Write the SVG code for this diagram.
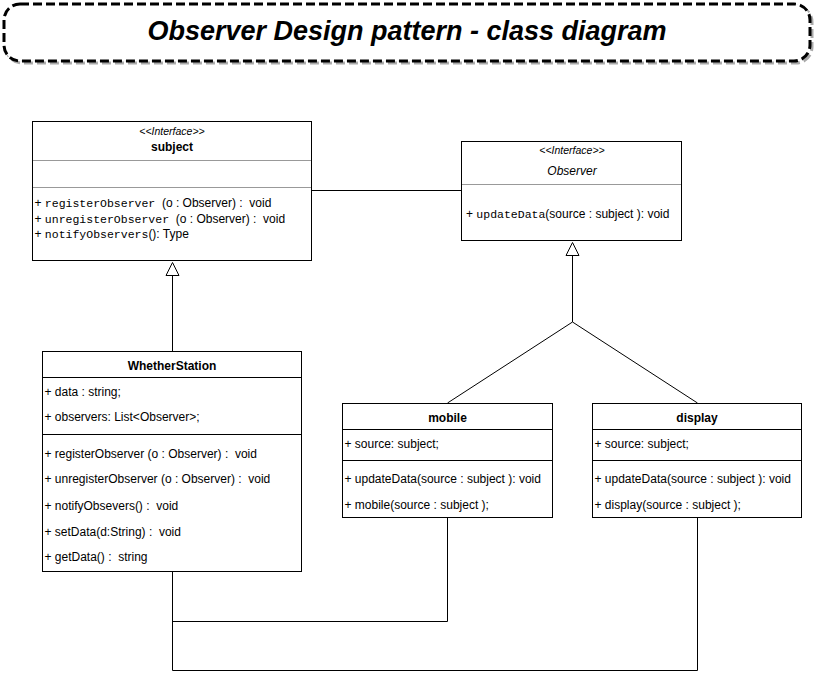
<svg xmlns="http://www.w3.org/2000/svg" width="815" height="673" viewBox="0 0 815 673">
<style>
  .box{fill:#fff;stroke:#000;stroke-width:1}
  .div{stroke:#000;stroke-width:1;fill:none}
  .gdiv{stroke:#999;stroke-width:1;fill:none}
  .t{font-family:"Liberation Sans",Arial,sans-serif;font-size:12px;fill:#000}
  .m{font-family:"Liberation Mono","DejaVu Sans Mono",monospace;font-size:11.5px}
  .b{font-weight:bold}
  .st{font-family:"Liberation Sans",Arial,sans-serif;font-size:10.5px;font-style:italic;fill:#000}
  .c{text-anchor:middle}
  .ln{stroke:#000;stroke-width:1;fill:none}
  .tri{fill:#fff;stroke:#000;stroke-width:1}
  .title{font-family:"Liberation Sans",Arial,sans-serif;font-size:27px;font-weight:bold;font-style:italic;fill:#000;text-anchor:middle}
</style>
<rect width="815" height="673" fill="#fff"/>
<g id="title">
  <rect x="6" y="6" width="806" height="57" rx="16" ry="16" fill="none" stroke="#aaa" stroke-width="3" stroke-dasharray="9 4"/>
  <rect x="4" y="4" width="806" height="57" rx="16" ry="16" fill="#fff" stroke="#000" stroke-width="3" stroke-dasharray="9 4"/>
  <text class="title" x="407" y="40">Observer Design pattern - class diagram</text>
</g>
<g id="connectors">
  <line class="ln" x1="312" y1="190.5" x2="462" y2="190.5"/>
  <line class="ln" x1="172.5" y1="351" x2="172.5" y2="275"/>
  <polygon class="tri" points="172.5,262.5 166,275.5 179,275.5"/>
  <polyline class="ln" points="447.5,403 572.5,322 697.5,403"/>
  <line class="ln" x1="572.5" y1="322" x2="572.5" y2="255.5"/>
  <polygon class="tri" points="572.5,242.5 566,255.5 579,255.5"/>
  <polyline class="ln" points="447.5,518 447.5,621.5 172.5,621.5"/>
  <line class="ln" x1="172.5" y1="571" x2="172.5" y2="670.5"/>
  <polyline class="ln" points="697.5,518 697.5,670.5 172.5,670.5"/>
</g>
<g id="subject">
  <rect class="box" x="32.5" y="121.5" width="279" height="139"/>
  <line class="gdiv" x1="33" y1="160.5" x2="311" y2="160.5"/>
  <line class="gdiv" x1="33" y1="187.5" x2="311" y2="187.5"/>
  <text class="st c" x="172" y="134.5">&lt;&lt;Interface&gt;&gt;</text>
  <text class="t b c" x="172" y="151">subject</text>
  <text class="t" x="34.5" y="206.5" xml:space="preserve">+ <tspan class="m">registerObserver</tspan>  (o : Observer) :  void</text>
  <text class="t" x="34.5" y="222.5" xml:space="preserve">+ <tspan class="m">unregisterObserver</tspan>  (o : Observer) :  void</text>
  <text class="t" x="34.5" y="238" xml:space="preserve">+ <tspan class="m">notifyObservers</tspan>(): Type</text>
</g>
<g id="observer">
  <rect class="box" x="461.5" y="141.5" width="220" height="99"/>
  <line class="gdiv" x1="462" y1="184.5" x2="681" y2="184.5"/>
  <text class="st c" x="572" y="154">&lt;&lt;Interface&gt;&gt;</text>
  <text class="t c" x="572" y="174.5" font-style="italic">Observer</text>
  <text class="t" x="466" y="217.5" xml:space="preserve">+ <tspan class="m">updateData</tspan>(source : subject ): void</text>
</g>
<g id="whetherstation">
  <rect class="box" x="42.5" y="351.5" width="259" height="220"/>
  <line class="div" x1="43" y1="377.5" x2="301" y2="377.5"/>
  <line class="div" x1="43" y1="434.5" x2="301" y2="434.5"/>
  <text class="t b c" x="172" y="369.5">WhetherStation</text>
  <text class="t" x="44.5" y="396">+ data : string;</text>
  <text class="t" x="44.5" y="420.5">+ observers: List&lt;Observer&gt;;</text>
  <text class="t" x="44.5" y="457.5" xml:space="preserve">+ registerObserver (o : Observer) :  void</text>
  <text class="t" x="44.5" y="483" xml:space="preserve">+ unregisterObserver (o : Observer) :  void</text>
  <text class="t" x="44.5" y="509.5" xml:space="preserve">+ notifyObsevers() :  void</text>
  <text class="t" x="44.5" y="535.5" xml:space="preserve">+ setData(d:String) :  void</text>
  <text class="t" x="44.5" y="560.5" xml:space="preserve">+ getData() :  string</text>
</g>
<g id="mobile">
  <rect class="box" x="342.5" y="403.5" width="210" height="114"/>
  <line class="div" x1="343" y1="429.5" x2="552" y2="429.5"/>
  <line class="div" x1="343" y1="460.5" x2="552" y2="460.5"/>
  <text class="t b c" x="447.5" y="422">mobile</text>
  <text class="t" x="344.5" y="447.5">+ source: subject;</text>
  <text class="t" x="344.5" y="482.5">+ updateData(source : subject ): void</text>
  <text class="t" x="344.5" y="508.5">+ mobile(source : subject );</text>
</g>
<g id="display">
  <rect class="box" x="592.5" y="403.5" width="209" height="114"/>
  <line class="div" x1="593" y1="429.5" x2="801" y2="429.5"/>
  <line class="div" x1="593" y1="460.5" x2="801" y2="460.5"/>
  <text class="t b c" x="697" y="422">display</text>
  <text class="t" x="594.5" y="447.5">+ source: subject;</text>
  <text class="t" x="594.5" y="482.5">+ updateData(source : subject ): void</text>
  <text class="t" x="594.5" y="508.5">+ display(source : subject );</text>
</g>
</svg>
